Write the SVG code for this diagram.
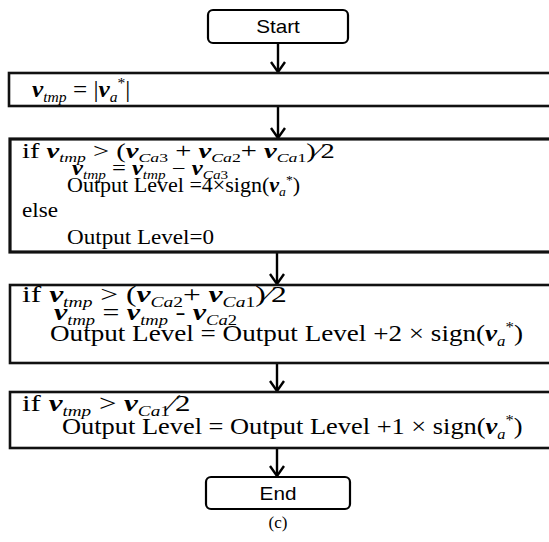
<svg xmlns="http://www.w3.org/2000/svg" width="549" height="542" viewBox="0 0 549 542">
<style>
.term{fill:#fff;stroke:#000;stroke-width:2.2}
.box{fill:#fff;stroke:#111;stroke-width:2.6}
.lbl{font-family:"Liberation Sans",Arial,sans-serif;font-size:18px;fill:#000;text-anchor:middle}
.t{font-family:"Liberation Serif","Times New Roman",serif;fill:#000}
.f2{font-size:21px}
.f2s{font-size:20px}
.f3{font-size:24px}
.f3s{font-size:23px}
.v{font-weight:bold;font-style:italic}
.i{font-style:italic}
.sb{font-size:0.62em}
.conn{stroke:#000;stroke-width:2.4;fill:none}
</style>
<defs>
<marker id="ah" viewBox="0 0 12 16" refX="11" refY="8" markerWidth="12" markerHeight="16" markerUnits="userSpaceOnUse" orient="auto">
<path d="M1,1 L11,8 L1,15" fill="none" stroke="#000" stroke-width="2.4"/>
</marker>
</defs>

<g id="connectors">
<line class="conn" x1="278" y1="43" x2="278" y2="72" marker-end="url(#ah)"/>
<line class="conn" x1="278" y1="106" x2="278" y2="138" marker-end="url(#ah)"/>
<line class="conn" x1="277" y1="252" x2="277" y2="284" marker-end="url(#ah)"/>
<line class="conn" x1="277" y1="363" x2="277" y2="391" marker-end="url(#ah)"/>
<line class="conn" x1="277" y1="448" x2="277" y2="476" marker-end="url(#ah)"/>
</g>

<g id="start">
<rect class="term" x="208" y="10" width="140" height="33" rx="5"/>
<text class="lbl" transform="translate(278,33) scale(1.15,1)">Start</text>
</g>

<g id="step1">
<rect class="box" x="9" y="73" width="545" height="33"/>
<text class="t f3" transform="translate(32,97) scale(1.05,1)"><tspan class="v">v</tspan><tspan class="i sb" dy="5">tmp</tspan><tspan dy="-5"> = |</tspan><tspan class="v">v</tspan><tspan class="i sb" dy="5">a</tspan><tspan class="sb" dy="-14">*</tspan><tspan dy="9">|</tspan></text>
</g>

<g id="step2">
<rect class="box" x="10" y="139" width="545" height="113" style="stroke-width:3.2"/>
<text class="t f2s" transform="translate(22,158) scale(1.43,1)">if  <tspan class="v">v</tspan><tspan class="i sb" dy="4">tmp</tspan><tspan dy="-4"> &gt; (</tspan><tspan class="v">v</tspan><tspan class="sb" dy="4"><tspan class="i">Ca</tspan>3</tspan><tspan dy="-4"> + </tspan><tspan class="v">v</tspan><tspan class="sb" dy="4"><tspan class="i">Ca</tspan>2</tspan><tspan dy="-4">+ </tspan><tspan class="v">v</tspan><tspan class="sb" dy="4"><tspan class="i">Ca</tspan>1</tspan><tspan dy="-4">)∕2</tspan></text>
<text class="t f2s" transform="translate(72,175) scale(1.23,1)"><tspan class="v">v</tspan><tspan class="i sb" dy="4">tmp</tspan><tspan dy="-4"> = </tspan><tspan class="v">v</tspan><tspan class="i sb" dy="4">tmp</tspan><tspan dy="-4"> − </tspan><tspan class="v">v</tspan><tspan class="sb" dy="4"><tspan class="i">Ca</tspan>3</tspan></text>
<text class="t f2" transform="translate(67,192) scale(1.05,1)">Output Level =4×sign(<tspan class="v">v</tspan><tspan class="i sb" dy="4">a</tspan><tspan class="sb" dy="-12">*</tspan><tspan dy="8">)</tspan></text>
<text class="t f2" transform="translate(22,217) scale(1.1,1)">else</text>
<text class="t f2" transform="translate(67,244) scale(1.1,1)">Output Level=0</text>
</g>

<g id="step3">
<rect class="box" x="10" y="285" width="545" height="78"/>
<text class="t f3s" transform="translate(22,302) scale(1.37,1)">if  <tspan class="v">v</tspan><tspan class="i sb" dy="5">tmp</tspan><tspan dy="-5"> &gt; (</tspan><tspan class="v">v</tspan><tspan class="sb" dy="5"><tspan class="i">Ca</tspan>2</tspan><tspan dy="-5">+ </tspan><tspan class="v">v</tspan><tspan class="sb" dy="5"><tspan class="i">Ca</tspan>1</tspan><tspan dy="-5">)∕2</tspan></text>
<text class="t f3s" transform="translate(54,320) scale(1.3,1)"><tspan class="v">v</tspan><tspan class="i sb" dy="5">tmp</tspan><tspan dy="-5"> = </tspan><tspan class="v">v</tspan><tspan class="i sb" dy="5">tmp</tspan><tspan dy="-5"> - </tspan><tspan class="v">v</tspan><tspan class="sb" dy="5"><tspan class="i">Ca</tspan>2</tspan></text>
<text class="t f3" transform="translate(50,341) scale(1.13,1)">Output Level = Output Level +2 × sign(<tspan class="v">v</tspan><tspan class="i sb" dy="5">a</tspan><tspan class="sb" dy="-14">*</tspan><tspan dy="9">)</tspan></text>
</g>

<g id="step4">
<rect class="box" x="10" y="392" width="545" height="56"/>
<text class="t f3" transform="translate(22,411) scale(1.29,1)">if  <tspan class="v">v</tspan><tspan class="i sb" dy="5">tmp</tspan><tspan dy="-5"> &gt; </tspan><tspan class="v">v</tspan><tspan class="sb" dy="5"><tspan class="i">Ca</tspan>1</tspan><tspan dy="-5">∕2</tspan></text>
<text class="t f3" transform="translate(62,434) scale(1.1,1)">Output Level = Output Level +1 × sign(<tspan class="v">v</tspan><tspan class="i sb" dy="5">a</tspan><tspan class="sb" dy="-14">*</tspan><tspan dy="9">)</tspan></text>
</g>

<g id="end">
<rect class="term" x="206" y="477" width="144" height="32" rx="5"/>
<text class="lbl" transform="translate(278,500) scale(1.15,1)">End</text>
</g>

<text class="t" x="278" y="528" style="font-size:17px;text-anchor:middle">(c)</text>
</svg>
